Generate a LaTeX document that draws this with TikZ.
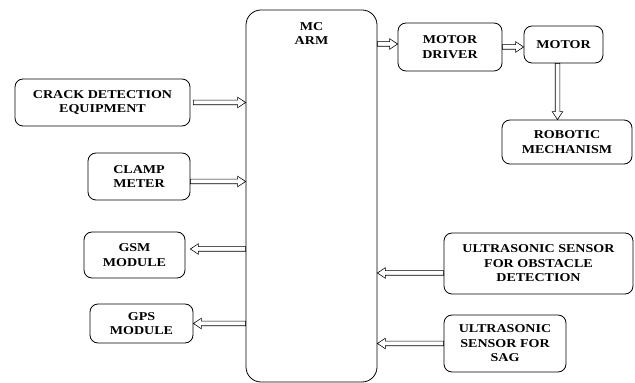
\documentclass[tikz,border=0pt]{standalone}
\usepackage{fontspec}
\setmainfont{Liberation Serif}[FakeStretch=1.17]
\usetikzlibrary{calc}
\begin{document}
\begin{tikzpicture}[x=1pt,y=1pt,
  box/.style={draw, line width=0.8pt, rounded corners=8pt, align=center, inner sep=0pt,
    font=\fontsize{12}{14.5}\selectfont\bfseries},
  hollow/.style={draw, line width=0.6pt, line join=miter, to path={
    let \p1=(\tikztostart), \p2=(\tikztotarget),
        \n1={atan2(\y2-\y1,\x2-\x1)}, \n2={veclen(\x2-\x1,\y2-\y1)} in
    [shift={(\p1)}, rotate=\n1]
    (0pt,2.3pt) -- (\n2-8pt,2.3pt) -- (\n2-8pt,5.3pt) -- (\n2,0pt)
    -- (\n2-8pt,-5.3pt) -- (\n2-8pt,-2.3pt) -- (0pt,-2.3pt) -- cycle}}]
\useasboundingbox (0,0) rectangle (635,383);
\node[box, minimum width=131, minimum height=372, rounded corners=15pt] (mc) at (311.5,187) {};
\node[font=\fontsize{12}{14.5}\selectfont\bfseries, align=center, anchor=north] (mclabel) at (311.5,364) {MC\\ARM};
\node[box, minimum width=175, minimum height=47] (crack) at (102.5,280.5) {CRACK DETECTION\\EQUIPMENT};
\node[box, minimum width=102, minimum height=47] (clamp) at (139,206.5) {CLAMP\\METER};
\node[box, minimum width=101, minimum height=46] (gsm) at (134.5,128) {GSM\\MODULE};
\node[box, minimum width=103, minimum height=39] (gps) at (141.5,59.5) {GPS\\MODULE};
\node[box, minimum width=104, minimum height=48] (drv) at (450,336) {MOTOR\\DRIVER};
\node[box, minimum width=79, minimum height=37] (motor) at (563.5,338.5) {MOTOR};
\node[box, minimum width=130, minimum height=44] (robot) at (567,241) {ROBOTIC\\MECHANISM};
\node[box, minimum width=189, minimum height=61] (uso) at (538.5,119.5) {ULTRASONIC SENSOR\\FOR OBSTACLE\\DETECTION};
\node[box, minimum width=122, minimum height=57] (uss) at (505,39.5) {ULTRASONIC\\SENSOR FOR\\SAG};
% connectors
\draw[hollow] ([xshift=3]crack.east) to (crack.east -| mc.west);
\draw[hollow] ([yshift=-5]clamp.east) to ([yshift=-5]clamp.east -| mc.west);
\draw[hollow] ([yshift=6]gsm.east -| mc.west) to ([xshift=5,yshift=6]gsm.east);
\draw[hollow] (gps.east -| mc.west) to (gps.east);
\draw[hollow] ([yshift=3]drv.west -| mc.east) to ([yshift=3]drv.west);
\draw[hollow] ([yshift=-2.5]motor.west -| drv.east) to ([yshift=-2.5]motor.west);
\draw[hollow] ([xshift=-6]motor.south) to ([xshift=-6]motor.south |- robot.north);
\draw[hollow] ([yshift=-9.5]uso.west) to ([yshift=-9.5]uso.west -| mc.east);
\draw[hollow] (uss.west) to (uss.west -| mc.east);
\end{tikzpicture}
\end{document}
